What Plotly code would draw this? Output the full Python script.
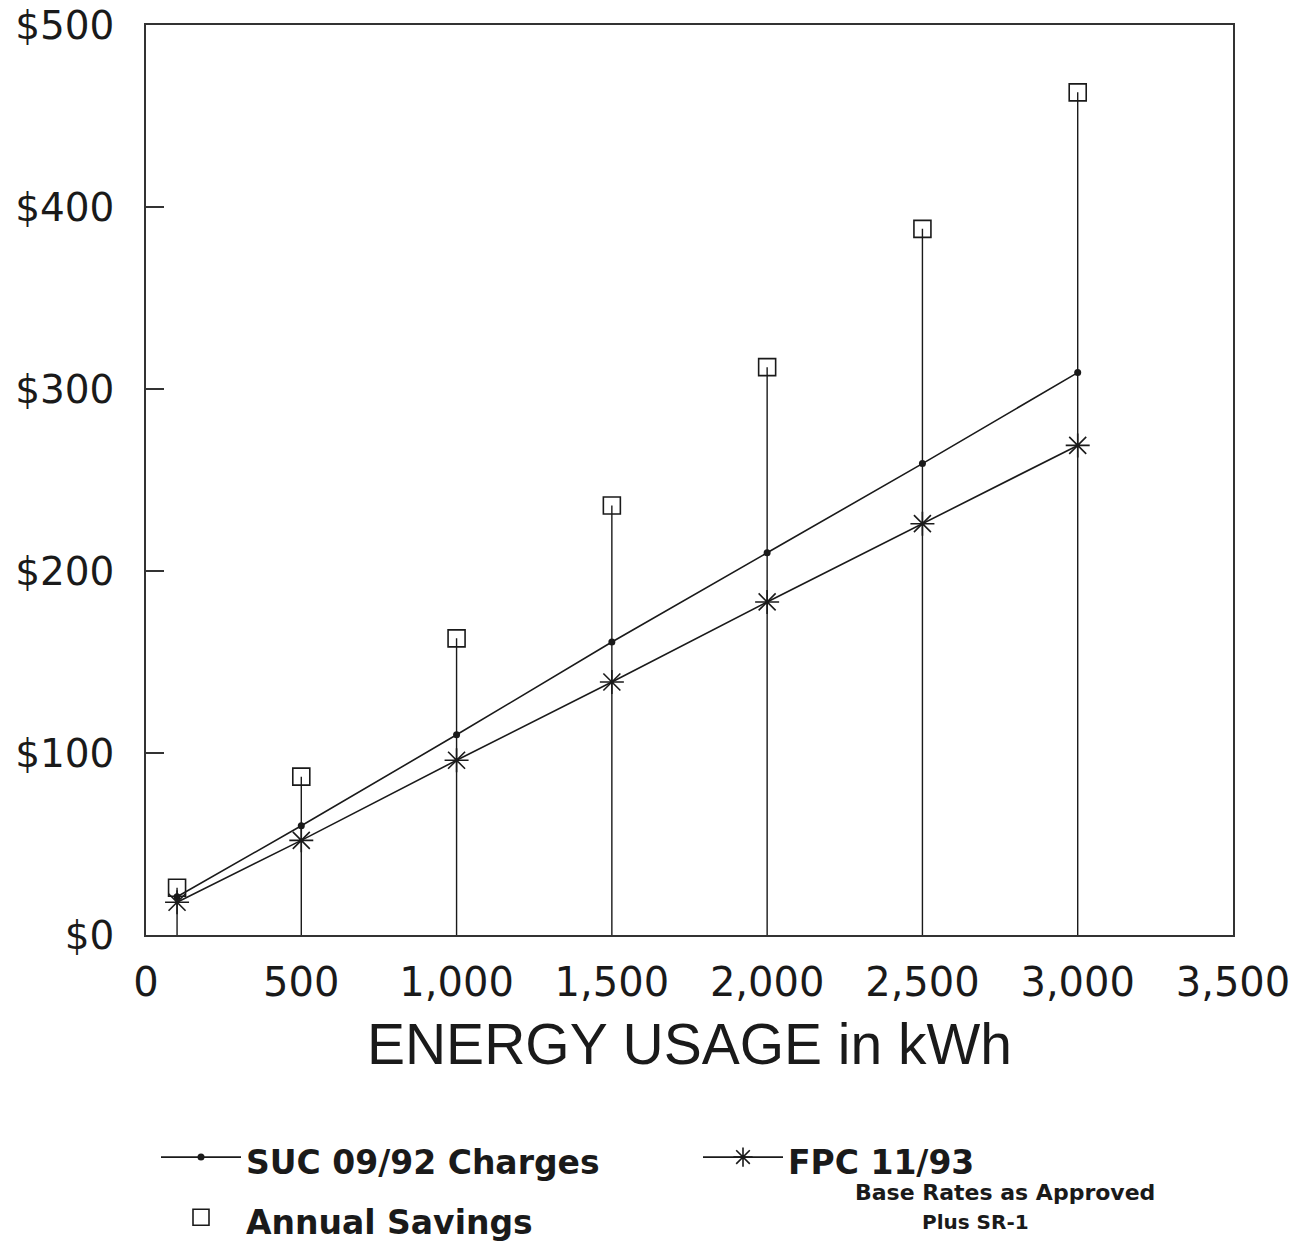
import plotly.graph_objects as go

# ---- data ----
usage_kwh = [100, 500, 1000, 1500, 2000, 2500, 3000]
suc_charges = [21, 60, 110, 161, 210, 259, 309]
fpc_charges = [18, 52, 96, 139, 183, 226, 269]
annual_savings = [26, 87, 163, 236, 312, 388, 463]

y_tickvals = [0, 100, 200, 300, 400, 500]
y_ticktext = ["$0", "$100", "$200", "$300", "$400", "$500"]
x_tickvals = [0, 500, 1000, 1500, 2000, 2500, 3000, 3500]
x_ticktext = ["0", "500", "1,000", "1,500", "2,000", "2,500", "3,000", "3,500"]

INK = "#1a1a1a"
LEG = "<span style='font-size:33px'>{}</span>"

W, H = 1309, 1247
ML, MR, MT, MB = 146, 76, 25, 312
PW, PH = W - ML - MR, H - MT - MB


def cx(px):  # page x -> container fraction
    return px / W


def cy(py):  # page y -> container fraction
    return 1 - py / H


def px_(px):  # page x -> paper fraction
    return (px - ML) / PW


def py_(py):  # page y -> paper fraction
    return (MT + PH - py) / PH


fig = go.Figure()

fig.add_trace(go.Scatter(
    x=usage_kwh, y=annual_savings, name=LEG.format("Annual Savings"),
    mode="markers", legendrank=3,
    marker=dict(symbol="square-open", size=17, color=INK, line=dict(width=1.6, color=INK)),
    error_y=dict(type="data", symmetric=False, array=[0] * len(annual_savings),
                 arrayminus=annual_savings, width=0, thickness=1.4, color=INK),
))
fig.add_trace(go.Scatter(
    x=usage_kwh, y=suc_charges, name=LEG.format("SUC 09/92 Charges"),
    mode="lines+markers", legendrank=1,
    line=dict(color=INK, width=1.6),
    marker=dict(symbol="circle", size=7, color=INK),
))
fig.add_trace(go.Scatter(
    x=usage_kwh, y=fpc_charges, name=LEG.format("FPC 11/93"),
    mode="lines+markers", legendrank=2,
    line=dict(color=INK, width=1.6),
    marker=dict(symbol="asterisk-open", size=20, color=INK, line=dict(width=1.6, color=INK)),
))

fig.update_layout(
    width=W, height=H,
    margin=dict(l=ML, r=MR, t=MT, b=MB, autoexpand=False),
    paper_bgcolor="white", plot_bgcolor="white",
    font=dict(family="DejaVu Sans", color=INK),
    showlegend=True,
    legend=dict(
        orientation="h", xref="container", yref="container",
        x=cx(156), xanchor="left", y=cy(1122), yanchor="top",
        font=dict(family="DejaVu Sans", size=44, weight="bold", color=INK),
        itemwidth=80, entrywidth=447, traceorder="normal",
        bgcolor="rgba(0,0,0,0)",
    ),
    xaxis=dict(
        range=[0, 3500], tickvals=x_tickvals, ticktext=x_ticktext,
        ticks="", showgrid=False, zeroline=False,
        showline=True, mirror=True, linecolor="#333", linewidth=1.6,
        tickfont=dict(family="DejaVu Sans", size=40, color=INK),
        ticklabelstandoff=11,
        title=dict(text="ENERGY USAGE in kWh", standoff=20,
                   font=dict(family="Liberation Sans", size=57, color=INK)),
    ),
    yaxis=dict(
        range=[0, 500], tickvals=y_tickvals, ticktext=y_ticktext,
        ticks="inside", ticklen=18, tickwidth=1.6, tickcolor="#333",
        showgrid=False, zeroline=False, ticklabeloverflow="allow",
        showline=True, mirror=True, linecolor="#333", linewidth=1.6,
        tickfont=dict(family="DejaVu Sans", size=39, color=INK),
        ticklabelstandoff=22,
    ),
    annotations=[
        dict(text="<b>Base Rates as Approved</b>", xref="paper", yref="paper",
             x=px_(1005), y=py_(1192), xanchor="center", yanchor="middle",
             showarrow=False, font=dict(family="DejaVu Sans", size=22, color=INK)),
        dict(text="<b>Plus SR-1</b>", xref="paper", yref="paper",
             x=px_(975), y=py_(1222), xanchor="center", yanchor="middle",
             showarrow=False, font=dict(family="DejaVu Sans", size=20, color=INK)),
    ],
)

# remove the default 8px page margin so the figure sits flush in the window
fig.write_html("out.html", config={"displayModeBar": False},
               post_script="document.body.style.margin='0px';")
